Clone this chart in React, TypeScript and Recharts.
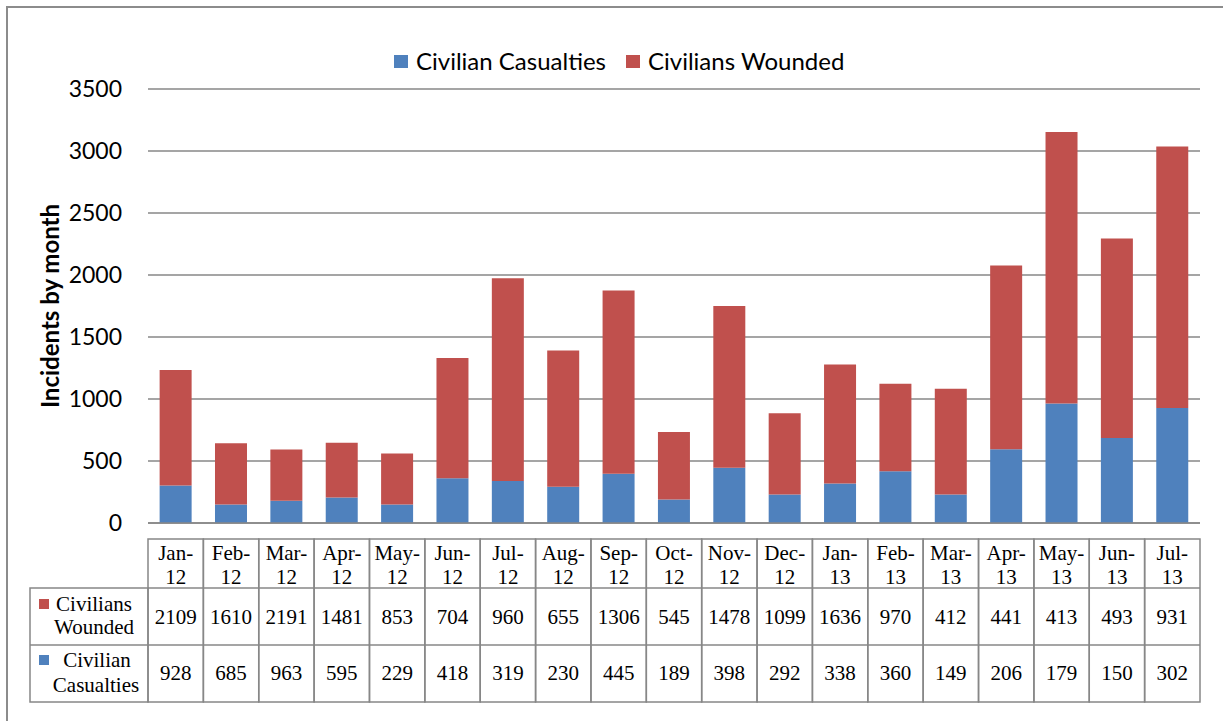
import React from 'react'
import { BarChart, Bar, XAxis, YAxis, CartesianGrid } from 'recharts'

// Bar values
const MONTHS = [
  'Jan-12', 'Feb-12', 'Mar-12', 'Apr-12', 'May-12', 'Jun-12', 'Jul-12', 'Aug-12', 'Sep-12', 'Oct-12',
  'Nov-12', 'Dec-12', 'Jan-13', 'Feb-13', 'Mar-13', 'Apr-13', 'May-13', 'Jun-13', 'Jul-13',
]
const CASUALTIES = [302, 150, 179, 206, 149, 360, 338, 292, 398, 189, 445, 230, 319, 418, 229, 595, 963, 685, 928]
const WOUNDED = [931, 493, 413, 441, 412, 970, 1636, 1099, 1478, 545, 1306, 655, 960, 704, 853, 1481, 2191, 1610, 2109]

// Numbers as printed in the data table under the chart
const TABLE_WOUNDED = [2109, 1610, 2191, 1481, 853, 704, 960, 655, 1306, 545, 1478, 1099, 1636, 970, 412, 441, 413, 493, 931]
const TABLE_CASUALTIES = [928, 685, 963, 595, 229, 418, 319, 230, 445, 189, 398, 292, 338, 360, 149, 206, 179, 150, 302]

const Y_TICKS = [0, 500, 1000, 1500, 2000, 2500, 3000, 3500]

const BLUE = '#4f81bd'
const RED = '#c0504d'
const GRID = '#878787'
const SANS = 'Lato, "Open Sans", sans-serif'
const SERIF = '"Liberation Serif", "Times New Roman", serif'

const PLOT_LEFT = 148
const PLOT_RIGHT = 1200
const BAND = (PLOT_RIGHT - PLOT_LEFT) / MONTHS.length

const data = MONTHS.map((m, i) => ({
  month: m,
  casualties: CASUALTIES[i],
  wounded: WOUNDED[i],
}))

function TableTick(props: any) {
  const { x, y, payload, index } = props
  const [mon, yr] = String(payload.value).split('-')
  const left = x - BAND / 2
  const txt = { fontFamily: SERIF, fontSize: 21, fill: '#000', textAnchor: 'middle' as const }
  return (
    <g>
      <rect x={left} y={y + 16} width={BAND} height={163} fill="none" stroke={GRID} strokeWidth={1.5} />
      <line x1={left} x2={left + BAND} y1={y + 65} y2={y + 65} stroke={GRID} strokeWidth={1.5} />
      <line x1={left} x2={left + BAND} y1={y + 122} y2={y + 122} stroke={GRID} strokeWidth={1.5} />
      <text x={x} y={y + 37} {...txt}>{mon}-</text>
      <text x={x} y={y + 61} {...txt}>{yr}</text>
      <text x={x} y={y + 101} {...txt}>{TABLE_WOUNDED[index]}</text>
      <text x={x} y={y + 157} {...txt}>{TABLE_CASUALTIES[index]}</text>
      {index === 0 && (
        <g>
          <rect x={30} y={y + 65} width={left - 30} height={114} fill="none" stroke={GRID} strokeWidth={1.5} />
          <line x1={30} x2={left} y1={y + 122} y2={y + 122} stroke={GRID} strokeWidth={1.5} />
          <rect x={39} y={y + 76} width={10} height={10} fill={RED} />
          <text x={94} y={y + 88} {...txt}>Civilians</text>
          <text x={94} y={y + 111} {...txt}>Wounded</text>
          <rect x={39} y={y + 132} width={10} height={10} fill={BLUE} />
          <text x={97} y={y + 144} {...txt}>Civilian</text>
          <text x={96} y={y + 169} {...txt}>Casualties</text>
        </g>
      )}
    </g>
  )
}

function LegendBox() {
  const items = [
    { label: 'Civilian Casualties', color: BLUE },
    { label: 'Civilians Wounded', color: RED },
  ]
  return (
    <div
      style={{
        position: 'absolute', top: 46, left: 394, display: 'flex', gap: 20,
        fontFamily: SANS, fontSize: 24, lineHeight: '30px', whiteSpace: 'nowrap',
      }}
    >
      {items.map(it => (
        <span key={it.label} style={{ display: 'flex', alignItems: 'center', gap: 8 }}>
          <span style={{ width: 14, height: 13, background: it.color, display: 'inline-block' }} />
          {it.label}
        </span>
      ))}
    </div>
  )
}

export default function App() {
  return (
    <div style={{ position: 'absolute', left: 0, top: 0, width: 1223, height: 721, background: '#fff', overflow: 'hidden' }}>
      <svg width={1223} height={721} style={{ position: 'absolute', left: 0, top: 0 }}>
        <rect x={7} y={7} width={1240} height={740} fill="none" stroke="#8c8c8c" strokeWidth={2} />
      </svg>
      <div style={{ position: 'absolute', left: 0, top: 0 }}>
        <BarChart
          width={1223}
          height={721}
          data={data}
          margin={{ top: 89, right: 1223 - PLOT_RIGHT, bottom: 8, left: PLOT_LEFT - 70 }}
          barCategoryGap="21%"
        >
          <CartesianGrid vertical={false} stroke={GRID} strokeWidth={1.5} />
          <XAxis
            dataKey="month"
            axisLine={{ stroke: GRID, strokeWidth: 1.5 }}
            tickLine={false}
            tickSize={0}
            tickMargin={0}
            height={190}
            interval={0}
            tick={<TableTick />}
          />
          <YAxis
            width={70}
            domain={[0, 3500]}
            ticks={Y_TICKS}
            axisLine={false}
            tickLine={false}
            tickSize={0}
            tickMargin={26}
            tick={{ fontFamily: SANS, fontSize: 23, fill: '#000' }}
            label={{
              value: 'Incidents by month',
              angle: -90,
              position: 'center',
              dx: -63,
              style: { fontFamily: SANS, fontSize: 24, fontWeight: 700, fill: '#000', textAnchor: 'middle' },
            }}
          />
          <Bar dataKey="casualties" stackId="a" fill={BLUE} isAnimationActive={false} />
          <Bar dataKey="wounded" stackId="a" fill={RED} isAnimationActive={false} />
        </BarChart>
      </div>
      <LegendBox />
    </div>
  )
}
